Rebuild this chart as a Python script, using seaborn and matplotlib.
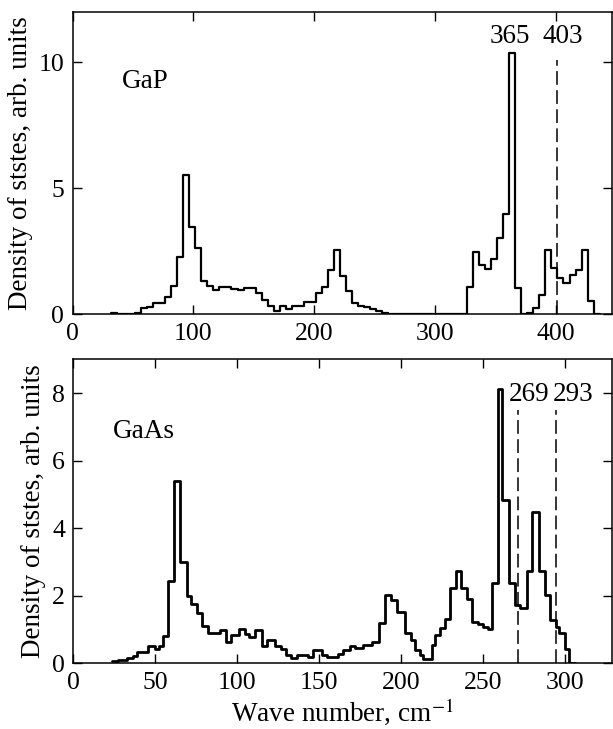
import numpy as np
import pandas as pd
import seaborn as sns
import matplotlib
matplotlib.use("Agg")
import matplotlib.pyplot as plt

# GaP phonon density of states, 5 cm-1 bins from 31.5 cm-1 (last bin closes the step)
gap_first_edge = 31.5
gap_bin_width = 5.0
gap_acoustic = [0.04, 0.0, 0.03, 0.03, 0.04, 0.24, 0.30, 0.46, 0.46, 0.70,
                1.14, 2.27, 5.52, 3.45, 2.63, 1.33, 1.14, 0.97, 1.10, 1.07,
                1.02, 0.97, 1.03, 1.03, 0.85, 0.57, 0.33, 0.14, 0.33, 0.21,
                0.33, 0.33, 0.50, 0.50, 0.86, 1.07, 1.76, 2.53, 1.53, 0.94,
                0.44, 0.34, 0.28, 0.20, 0.13, 0.07]
gap_gap = [0.0] * 13
gap_optical = [1.10, 2.47, 1.96, 1.79, 2.19, 3.02, 3.98, 10.38, 1.04, 0.0,
               0.05, 0.24, 0.77, 2.53, 1.83, 1.45, 1.23, 1.56, 1.76, 2.53,
               0.51, 0.0]
gap_dos = gap_acoustic + gap_gap + gap_optical
gap_lines = [401.5]

# GaAs phonon density of states, bin edges
gaas_edges = [23.4, 27.5, 32.6, 36.6, 38.6, 45.7, 49.8, 52.5, 54.9, 57.8,
              61.3, 65.1, 69.3, 71.9, 75.4, 78.8, 82.3, 85.4, 89.5, 93.1,
              96.0, 101.2, 104.7, 107.5, 110.8, 114.9, 118.3, 123.0, 126.5, 129.7,
              132.6, 136.2, 143.3, 146.3, 151.5, 154.5, 161.6, 164.6, 168.7, 171.8,
              176.8, 182.0, 186.6, 190.1, 193.7, 197.2, 202.3, 206.3, 208.4, 211.4,
              213.4, 219.1, 220.5, 223.6, 226.6, 230.1, 233.4, 236.8, 239.9, 243.5,
              247.0, 250.0, 253.1, 255.7, 259.2, 261.5, 265.9, 269.3, 272.4, 276.8,
              280.1, 284.1, 287.6, 290.7, 294.3, 296.3, 299.8, 302.4, 306.0]
gaas_dos = [0.07, 0.10, 0.15, 0.22, 0.35, 0.51, 0.42, 0.50, 0.82, 2.44,
            5.41, 3.00, 2.00, 1.75, 1.50, 1.10, 0.91, 0.89, 0.99, 0.64,
            0.85, 1.01, 0.87, 0.79, 1.00, 0.52, 0.69, 0.50, 0.42, 0.25,
            0.15, 0.25, 0.20, 0.40, 0.25, 0.20, 0.28, 0.40, 0.52, 0.46,
            0.54, 0.64, 1.21, 2.02, 1.87, 1.53, 0.89, 0.69, 0.40, 0.25,
            0.12, 0.54, 0.84, 1.04, 1.30, 2.22, 2.73, 2.22, 1.90, 1.23,
            1.18, 1.09, 1.01, 2.39, 8.12, 4.85, 2.37, 1.73, 1.63, 2.73,
            4.49, 2.73, 2.02, 1.28, 1.09, 0.89, 0.42, 0.0]
gaas_lines = [271.0, 294.3]

# Step 1 - build tables
gap_edges = gap_first_edge + gap_bin_width * np.arange(len(gap_dos) + 1)
df_gap = pd.DataFrame({"wn": (gap_edges[:-1] + gap_edges[1:]) / 2, "dos": gap_dos})
gaas_edges = np.array(gaas_edges)
df_gaas = pd.DataFrame({"wn": (gaas_edges[:-1] + gaas_edges[1:]) / 2, "dos": gaas_dos})

# Step 2 - style
sns.set_theme(style="ticks")
plt.rcParams["font.family"] = ["Liberation Serif", "DejaVu Serif"]
plt.rcParams["mathtext.fontset"] = "stix"
plt.rcParams["axes.linewidth"] = 1.1
for key in ["axes.edgecolor", "axes.labelcolor", "text.color", "xtick.color", "ytick.color"]:
    plt.rcParams[key] = "black"

fig = plt.figure(figsize=(6.13, 7.29), dpi=100)
ax1 = fig.add_axes([0.1186, 0.5689, 0.8794, 0.4151])
ax2 = fig.add_axes([0.1195, 0.0900, 0.8785, 0.4171])

dash = (0, (9, 3.5))

# Step 3 - GaP
sns.histplot(data=df_gap, x="wn", weights="dos", bins=gap_edges.tolist(), element="step",
             fill=False, color="black", linewidth=1.6, ax=ax1)
ax1.vlines(gap_lines, 0, 10.1, colors="black", linestyles=dash, linewidth=1.1)
ax1.set_xlim(0, 446.5)
ax1.set_ylim(0, 12)
ax1.set_xticks([0, 100, 200, 300, 400])
ax1.set_yticks([0, 5, 10])
ax1.text(40.4, 9.24, "GaP", fontsize=19.5, ha="left", va="center")
ax1.text(362, 11.0, "365", fontsize=19.5, ha="center", va="center")
ax1.text(406, 11.0, "403", fontsize=19.5, ha="center", va="center")

# Step 4 - GaAs
sns.histplot(data=df_gaas, x="wn", weights="dos", bins=gaas_edges.tolist(), element="step",
             fill=False, color="black", linewidth=2.0, ax=ax2)
ax2.vlines(gaas_lines, 0, 7.5, colors="black", linestyles=dash, linewidth=1.1)
ax2.set_xlim(0, 328.5)
ax2.set_ylim(0, 9)
ax2.set_xticks([0, 50, 100, 150, 200, 250, 300])
ax2.set_yticks([0, 2, 4, 6, 8])
ax2.text(24.4, 6.86, "GaAs", fontsize=19.5, ha="left", va="center")
ax2.text(278, 7.97, "269", fontsize=19.5, ha="center", va="center")
ax2.text(305, 7.97, "293", fontsize=19.5, ha="center", va="center")

for ax in (ax1, ax2):
    ax.tick_params(direction="in", top=True, right=True, length=6.5, width=1,
                   labelsize=18.5, pad=6)
    ax.set_ylabel("Density of ststes, arb. units", fontsize=19.5, labelpad=4)
    ax.set_xlabel("")

ax2.set_xlabel("Wave number, cm$^{-1}$", fontsize=19.5, labelpad=2)

plt.savefig("out.png", dpi=100)
